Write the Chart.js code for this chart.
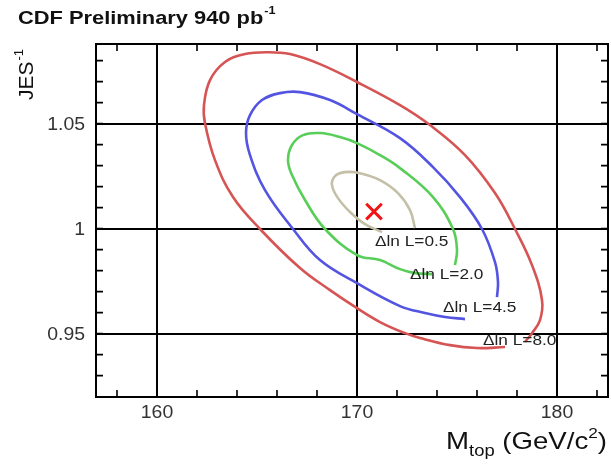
<!DOCTYPE html>
<html>
<head>
<meta charset="utf-8">
<script src="https://cdn.jsdelivr.net/npm/chart.js@4"></script>
<style>
  html, body { margin: 0; padding: 0; background: #fff; }
  #wrap { width: 611px; height: 468px; }
</style>
</head>
<body>
<div id="wrap"><canvas id="contourChart" width="611" height="468"></canvas></div>
<script>
// likelihood contours in the (M_top, JES^-1) plane
const contour05 = [
    [171.25, 0.9983], [170.4, 1.0021], [169.65, 1.0079], [169.05, 1.0145], [168.75, 1.0207],
    [168.9, 1.0250], [169.4, 1.0269], [170.15, 1.0264], [171.15, 1.0231], [172.05, 1.0169],
    [172.65, 1.0088], [172.9, 1.0002]
];
const contour20 = [
    [173.75, 0.9783], [172.9, 0.9788], [172.15, 0.9807], [171.15, 0.9850], [170.0, 0.9874],
    [168.4, 0.9998], [167.4, 1.0136], [166.75, 1.0255], [166.55, 1.0326], [166.75, 1.0398],
    [167.3, 1.0445], [168.15, 1.0455], [169.15, 1.0436], [170.0, 1.0407], [171.15, 1.0350],
    [172.15, 1.0288], [173.8, 1.0150], [174.8, 0.9998], [175.0, 0.9898], [174.9, 0.9826]
];
const contour45 = [
    [175.4, 0.9569], [174.4, 0.9579], [173.4, 0.9598], [172.15, 0.9631], [170.0, 0.9740],
    [168.15, 0.9850], [166.8, 0.9998], [165.4, 1.0183], [164.65, 1.0350], [164.45, 1.0455],
    [164.65, 1.0540], [165.25, 1.0612], [166.15, 1.0645], [167.15, 1.0650], [168.65, 1.0612],
    [170.0, 1.0545], [172.15, 1.0431], [173.8, 1.0293], [175.15, 1.0150],
    [176.25, 0.9998], [176.9, 0.9840], [177.05, 0.9745], [177.0, 0.9674]
];
const contour80 = [
    [177.4, 0.9436], [176.0, 0.9431], [174.65, 0.9445], [173.15, 0.9479], [172.4, 0.9502],
    [171.15, 0.9555], [170.0, 0.9621], [168.65, 0.9707], [167.15, 0.9812], [165.15, 0.9998],
    [163.8, 1.0150], [162.9, 1.0326], [162.4, 1.0502], [162.35, 1.0588], [162.65, 1.0707],
    [163.4, 1.0793], [164.4, 1.0831], [165.5, 1.0840], [166.65, 1.0831], [168.15, 1.0783],
    [170.0, 1.0698], [172.15, 1.0588], [173.65, 1.0493], [175.4, 1.0350], [176.9, 1.0169],
    [177.9, 0.9998], [178.75, 0.9826], [179.25, 0.9660], [179.15, 0.9564], [178.75, 0.9502],
    [178.4, 0.9460]
];
const bestFit = [[170.85, 1.0081]];

const contourLabels = [
    { text: '\u0394ln L=0.5', x: 170.9, y: 0.9936 },
    { text: '\u0394ln L=2.0', x: 172.65, y: 0.9779 },
    { text: '\u0394ln L=4.5', x: 174.3, y: 0.9621 },
    { text: '\u0394ln L=8.0', x: 176.3, y: 0.9464 }
];

const xMajor = [160, 170, 180];
const yMajor = [0.95, 1.0, 1.05];
const yMajorText = ['0.95', '1', '1.05'];
const xMinor = [158, 160, 162, 164, 166, 168, 170, 172, 174, 176, 178, 180, 182];
const yMinor = [0.93, 0.94, 0.95, 0.96, 0.97, 0.98, 0.99, 1.0, 1.01, 1.02, 1.03, 1.04, 1.05, 1.06, 1.07, 1.08];

const FONT = '"Liberation Sans", Arial, sans-serif';
const toPoints = arr => arr.map(p => ({ x: p[0], y: p[1] }));

function contourSet(data, color) {
    return {
        data: toPoints(data),
        showLine: true,
        borderColor: color,
        borderWidth: 2.6,
        pointRadius: 0,
        tension: 0.4,
        fill: false
    };
}

// text widened a little, anchored on its left/centre/right edge
function wideText(ctx, text, x, y, font, stretch, align) {
    ctx.save();
    ctx.font = font;
    const w = ctx.measureText(text).width * stretch;
    const left = align === 'right' ? x - w : align === 'center' ? x - w / 2 : x;
    ctx.translate(left, y);
    ctx.scale(stretch, 1);
    ctx.textAlign = 'left';
    ctx.fillText(text, 0, 0);
    ctx.restore();
    return w;
}

const decorations = {
    id: 'decorations',
    afterDatasetsDraw(chart) {
        const { ctx, chartArea: a, scales: { x, y } } = chart;
        ctx.save();
        ctx.strokeStyle = '#000';
        ctx.lineWidth = 2;
        ctx.strokeRect(a.left, a.top, a.right - a.left, a.bottom - a.top);

        // small inward ticks on all four sides
        ctx.lineWidth = 1.6;
        ctx.beginPath();
        xMinor.forEach(v => {
            const px = x.getPixelForValue(v);
            ctx.moveTo(px, a.bottom); ctx.lineTo(px, a.bottom - 7);
            ctx.moveTo(px, a.top); ctx.lineTo(px, a.top + 7);
        });
        yMinor.forEach(v => {
            const py = y.getPixelForValue(v);
            ctx.moveTo(a.left, py); ctx.lineTo(a.left + 7, py);
            ctx.moveTo(a.right, py); ctx.lineTo(a.right - 7, py);
        });
        ctx.stroke();

        ctx.fillStyle = '#222';
        ctx.textBaseline = 'middle';
        contourLabels.forEach(l => {
            wideText(ctx, l.text, x.getPixelForValue(l.x), y.getPixelForValue(l.y), '15px ' + FONT, 1.15, 'left');
        });

        // axis numbers
        ctx.fillStyle = '#333';
        xMajor.forEach(v => {
            wideText(ctx, String(v), x.getPixelForValue(v), a.bottom + 16, '18px ' + FONT, 1.08, 'center');
        });
        yMajor.forEach((v, i) => {
            wideText(ctx, yMajorText[i], a.left - 11, y.getPixelForValue(v) + 1, '18px ' + FONT, 1.08, 'right');
        });
        ctx.restore();
    },
    afterDraw(chart) {
        const { ctx } = chart;
        ctx.save();
        ctx.fillStyle = '#111';
        ctx.textBaseline = 'alphabetic';

        // header
        const hw = wideText(ctx, 'CDF Preliminary 940 pb', 18, 24, 'bold 19px ' + FONT, 1.15, 'left');
        wideText(ctx, '-1', 18 + hw + 1, 14, 'bold 11px ' + FONT, 1.15, 'left');

        // y title
        ctx.save();
        ctx.translate(33, 100);
        ctx.rotate(-Math.PI / 2);
        ctx.font = '21px ' + FONT;
        ctx.fillText('JES', 0, 0);
        const jw = ctx.measureText('JES').width;
        ctx.font = '13px ' + FONT;
        ctx.fillText('-1', jw + 1, -10);
        ctx.restore();

        // x title, laid out right to left from the frame edge
        const base = 449;
        let cx = 607;
        cx -= wideText(ctx, ')', cx, base, '24px ' + FONT, 1.15, 'right');
        cx -= wideText(ctx, '2', cx, base - 11, '15px ' + FONT, 1.15, 'right');
        cx -= wideText(ctx, ' (GeV/c', cx, base, '24px ' + FONT, 1.15, 'right');
        cx -= wideText(ctx, 'top', cx, base + 7, '16px ' + FONT, 1.15, 'right');
        wideText(ctx, 'M', cx, base, '24px ' + FONT, 1.15, 'right');
        ctx.restore();
    }
};

const ctx = document.getElementById('contourChart').getContext('2d');
new Chart(ctx, {
    type: 'scatter',
    data: {
        datasets: [
            contourSet(contour80, 'rgb(214, 84, 84)'),
            contourSet(contour45, 'rgb(84, 84, 226)'),
            contourSet(contour20, 'rgb(88, 206, 88)'),
            contourSet(contour05, 'rgb(196, 192, 168)'),
            {
                data: toPoints(bestFit),
                pointStyle: 'crossRot',
                pointRadius: 11,
                borderColor: 'rgb(240, 20, 20)',
                borderWidth: 3,
                showLine: false
            }
        ]
    },
    options: {
        responsive: false,
        animation: false,
        layout: { autoPadding: false, padding: { top: 44, right: 3, left: 0, bottom: 0 } },
        plugins: { legend: { display: false }, tooltip: { enabled: false } },
        scales: {
            x: {
                type: 'linear',
                min: 156.95,
                max: 182.55,
                afterBuildTicks: s => { s.ticks = xMajor.map(v => ({ value: v })); },
                afterFit: s => { s.height = 71; },
                grid: { color: '#000', lineWidth: 2, drawTicks: false },
                border: { display: false },
                ticks: { display: false }
            },
            y: {
                type: 'linear',
                min: 0.9198,
                max: 1.0879,
                afterBuildTicks: s => { s.ticks = yMajor.map(v => ({ value: v })); },
                afterFit: s => { s.width = 96; },
                grid: { color: '#000', lineWidth: 2, drawTicks: false },
                border: { display: false },
                ticks: { display: false }
            }
        }
    },
    plugins: [decorations]
});
</script>
</body>
</html>
